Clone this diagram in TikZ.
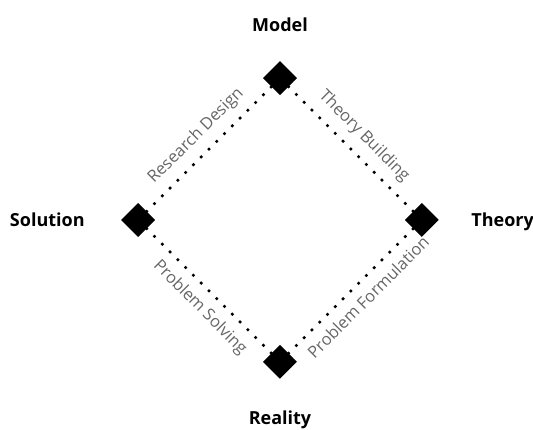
\documentclass[tikz,border=0pt]{standalone}
\usepackage{fontspec}
\setmainfont{Open Sans}
\usetikzlibrary{matrix,shapes.geometric}

\begin{document}
\begin{tikzpicture}[x=1pt, y=1pt,
    vertex/.style={diamond, fill=black, inner sep=0pt, minimum size=34pt},
    link/.style={line width=3.6pt, line cap=round, dash pattern=on 0pt off 11pt},
    phase/.style={text=black!60, font=\fontsize{16.5}{19}\selectfont, sloped},
    corner/.style={font=\fontsize{18}{21}\selectfont\bfseries}]
\useasboundingbox (-280,-210) rectangle (253,220);

\matrix[column sep=108pt, row sep=108pt] (mat)
{
    & \node[vertex] (model) {}; & \\
    \node[vertex] (solution) {}; & & \node[vertex] (theory) {}; \\
    & \node[vertex] (reality) {}; & \\
};

\draw[link] (solution) -- node[phase, above=5pt] {Research Design} (model);
\draw[link] (model) -- node[phase, above=5pt] {Theory Building} (theory);
\draw[link] (solution) -- node[phase, below=5pt, pos=0.53] {Problem Solving} (reality);
\draw[link] (reality) -- node[phase, below=5pt, pos=0.545] {Problem Formulation} (theory);

\node[corner, anchor=base] at ([yshift=47pt]model.center) {Model};
\node[corner, anchor=base east] at ([xshift=-50pt, yshift=-7pt]solution.center) {Solution};
\node[corner, anchor=base west] at ([xshift=46pt, yshift=-7pt]theory.center) {Theory};
\node[corner, anchor=base] at ([yshift=-63pt]reality.center) {Reality};

\end{tikzpicture}
\end{document}
